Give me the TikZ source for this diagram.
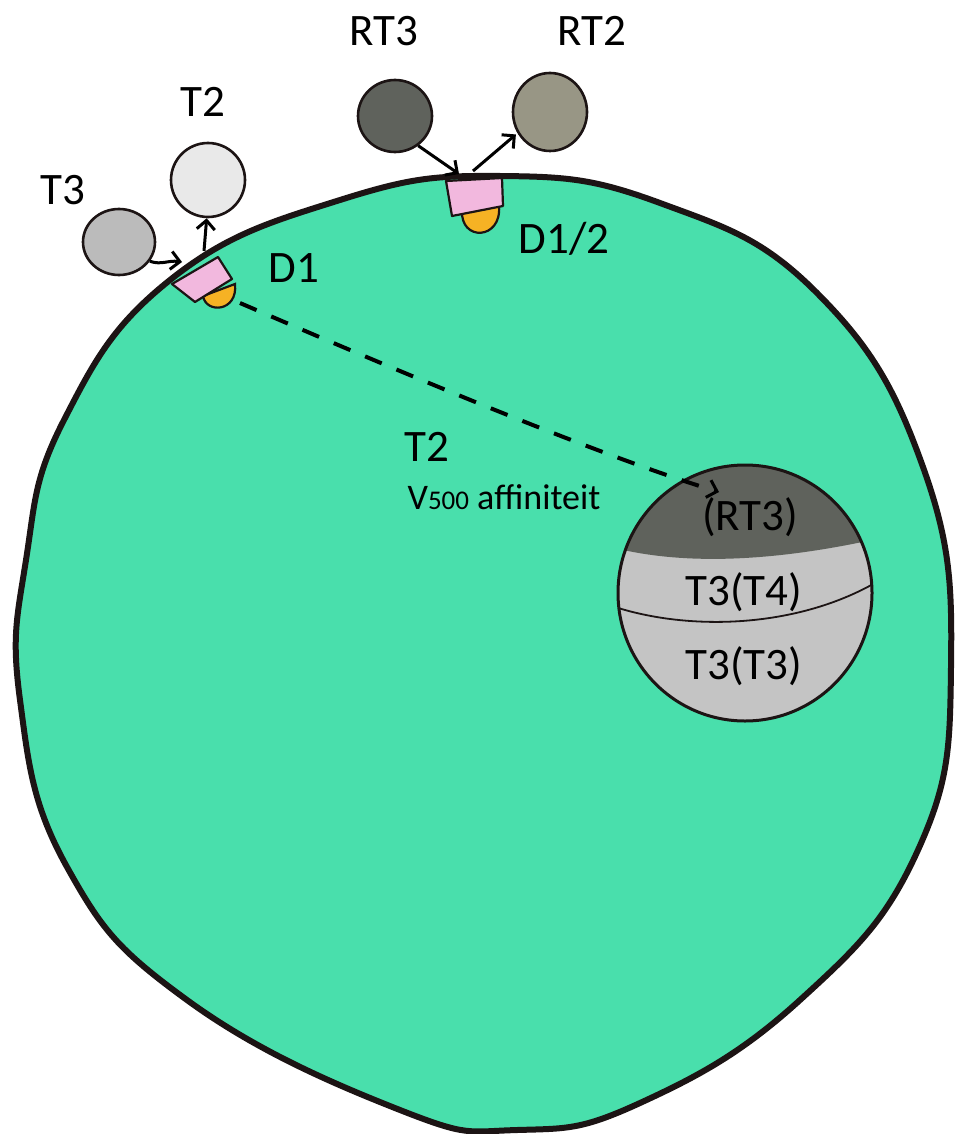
\documentclass[tikz,border=0pt]{standalone}
\usepackage{fontspec}
\setmainfont{Carlito}
\usetikzlibrary{arrows.meta,shapes.geometric}

\definecolor{cellgreen}{RGB}{73,223,172}
\definecolor{inkline}{RGB}{28,20,20}
\definecolor{pinkcap}{RGB}{242,184,222}
\definecolor{orangebud}{RGB}{246,178,36}
\definecolor{greyTthree}{RGB}{187,187,187}
\definecolor{greyTtwo}{RGB}{233,233,233}
\definecolor{greyRTthree}{RGB}{95,98,92}
\definecolor{greyRTtwo}{RGB}{152,150,133}
\definecolor{balllight}{RGB}{196,196,196}

\tikzset{
  bigtext/.style={font=\fontsize{45}{54}\selectfont, inner sep=0pt},
  smalltext/.style={font=\fontsize{36}{43}\selectfont, inner sep=0pt},
  hormone/.style={draw=inkline, line width=2.6pt, ellipse, inner sep=0pt},
  membrane/.style={draw=inkline, line width=6pt, line join=round},
  receptor/.style={draw=inkline, line width=2.2pt, fill=pinkcap, line join=round},
  deiodinase/.style={draw=inkline, line width=2.2pt, fill=orangebud},
  flow/.style={draw=black, line width=3pt, -{Straight Barb[length=9pt,width=18pt,line width=3pt]}},
  dashedflow/.style={draw=black, line width=4pt, dash pattern=on 18pt off 16pt,
     -{Straight Barb[length=9pt,width=18pt,line width=3pt]}},
}

\begin{document}
\begin{tikzpicture}[x=1pt,y=-1pt]
\useasboundingbox (0,0) rectangle (955,1134);

% cell body
\def\cellpath{plot[smooth cycle, tension=0.75] coordinates {
  (500,176) (660,203) (817,293) (923,467) (951,667) (918,850) (800,1000)
  (640,1103) (517,1130) (400,1110) (187,1000) (67,867) (20,700)
  (26,560) (64,420) (170,280) (340,200)}}
\fill[cellgreen] \cellpath;

% D1 at the left of the membrane
\draw[deiodinase] (203,296) .. controls (206,314) and (238,312) .. (235,284) -- cycle;
\draw[receptor] (172,284) -- (218,257) -- (232,279) -- (195,302) -- cycle;
% D1/2 at the top of the membrane
\draw[deiodinase] (462,210) .. controls (460,242) and (502,240) .. (499,206) -- cycle;
\draw[receptor] (446,181) -- (502,178) -- (503,206) -- (452,216) -- cycle;

% membrane outline
\draw[membrane] \cellpath;

% vesicle with its three layers
\begin{scope}
  \clip (745,593) ellipse [x radius=127, y radius=128];
  \fill[balllight] (600,450) rectangle (890,740);
  \fill[greyRTthree] (600,450) -- (890,450) -- (890,536)
     .. controls (820,552) and (700,574) .. (600,544) -- cycle;
  \draw[inkline, line width=1.8pt] (612,606) .. controls (690,632) and (800,628) .. (880,580);
\end{scope}
\node[draw=inkline, line width=3pt, ellipse, minimum width=254pt, minimum height=256pt,
      inner sep=0pt] (vesicle) at (745,593) {};

% hormones outside the cell
\node[hormone, fill=greyTthree, minimum width=72pt, minimum height=66pt] (t3) at (119,242) {};
\node[hormone, fill=greyTtwo, minimum width=74pt, minimum height=74pt] (t2) at (208,180) {};
\node[hormone, fill=greyRTthree, minimum width=74pt, minimum height=72pt] (rt3) at (395,116) {};
\node[hormone, fill=greyRTtwo, minimum width=74pt, minimum height=78pt] (rt2) at (550,112) {};

% docking points on the enzymes
\coordinate (d1in) at (182,262);
\coordinate (d1up) at (204,251);
\coordinate (d1out) at (240,303);
\coordinate (dtwoin) at (459,174);
\coordinate (dtwoup) at (473,171);
\coordinate (vesin) at (719,492);

% conversions
\draw[flow] (t3.-32) .. controls +(12,4) and +(-14,-2) .. (d1in);
\draw[flow] (d1up) -- (t2.268);
\draw[flow] (rt3.-52) -- (dtwoin);
\draw[flow, shorten >=2pt] (dtwoup) -- (rt2.213);
\draw[dashedflow] (d1out) .. controls (400,372) and (600,456) .. (vesin);

% labels
\node[bigtext] (lt3) at (63,190) {T3};
\node[bigtext] (lt2) at (203,102) {T2};
\node[bigtext] (lrt3) at (384,31) {RT3};
\node[bigtext] (lrt2) at (592,31) {RT2};
\node[bigtext] (ld1) at (294,268) {D1};
\node[bigtext] (ld12) at (564,239) {D1/2};
\node[bigtext] (lt2in) at (427,447) {T2};
\node[smalltext, anchor=base] (laff) at (504,509)
   {V{\fontsize{27}{32}\selectfont 500} affiniteit};
\node[bigtext] (lrt3in) at (750,517) {(RT3)};
\node[bigtext] (lt3t4) at (744,592) {T3(T4)};
\node[bigtext] (lt3t3) at (744,666) {T3(T3)};
\end{tikzpicture}
\end{document}
